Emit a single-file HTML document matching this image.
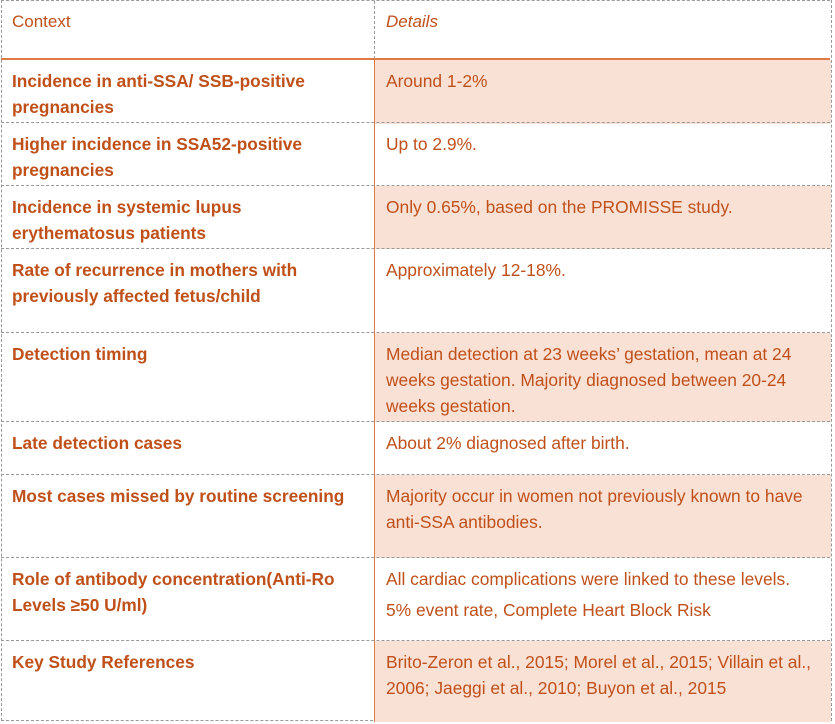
<!DOCTYPE html>
<html><head><meta charset="utf-8"><style>
body{margin:0;width:835px;height:724px;background:#fff;position:relative;font-family:"Liberation Sans",sans-serif;font-size:17px;color:#c0501a;overflow:hidden}
.r{position:absolute;left:1px;width:829px;border-top:1px dashed #999}
.c{position:absolute;line-height:26px;padding-top:8px;white-space:nowrap}
.l{left:11px;width:355px;font-weight:bold;font-size:17.3px}
.d{left:373px;width:457px;height:100%;box-sizing:border-box;padding-left:11px;padding-right:4px;border-left:1.5px solid #e07a45;font-size:17.4px}
.s{background:#fae1d5}
</style></head><body>
<div style="position:absolute;left:1px;top:0;width:829px;height:720px;border-left:1px dashed #999;border-right:1px dashed #999;border-bottom:1px dashed #999"></div>
<div class="r" style="top:0;height:58px"><div class="c" style="left:11px">Context</div><div class="c" style="left:373px;padding-left:11px;border-left:1px dashed #999;height:50px;font-style:italic">Details</div></div>
<div class="r" style="top:58px;height:64px;border-top:2px solid #e07a45"><div class="c l">Incidence in anti-SSA/ SSB-positive<br>pregnancies</div><div class="c d s">Around 1-2%</div></div>
<div class="r" style="top:122px;height:63px"><div class="c l">Higher incidence in SSA52-positive<br>pregnancies</div><div class="c d">Up to 2.9%.</div></div>
<div class="r" style="top:185px;height:63px"><div class="c l">Incidence in systemic lupus<br>erythematosus patients</div><div class="c d s">Only 0.65%, based on the PROMISSE study.</div></div>
<div class="r" style="top:248px;height:84px"><div class="c l">Rate of recurrence in mothers with<br>previously affected fetus/child</div><div class="c d">Approximately 12-18%.</div></div>
<div class="r" style="top:332px;height:89px"><div class="c l">Detection timing</div><div class="c d s">Median detection at 23 weeks’ gestation, mean at 24<br>weeks gestation. Majority diagnosed between 20-24<br>weeks gestation.</div></div>
<div class="r" style="top:421px;height:53px"><div class="c l">Late detection cases</div><div class="c d">About 2% diagnosed after birth.</div></div>
<div class="r" style="top:474px;height:83px"><div class="c l">Most cases missed by routine screening</div><div class="c d s">Majority occur in women not previously known to have<br>anti-SSA antibodies.</div></div>
<div class="r" style="top:557px;height:83px"><div class="c l">Role of antibody concentration(Anti-Ro<br>Levels ≥50 U/ml)</div><div class="c d">All cardiac complications were linked to these levels.<div style="margin-top:5px">5% event rate, Complete Heart Block Risk</div></div></div>
<div class="r" style="top:640px;height:81px"><div class="c l">Key Study References</div><div class="c d s">Brito-Zeron et al., 2015; Morel et al., 2015; Villain et al.,<br>2006; Jaeggi et al., 2010; Buyon et al., 2015</div></div>
</body></html>
